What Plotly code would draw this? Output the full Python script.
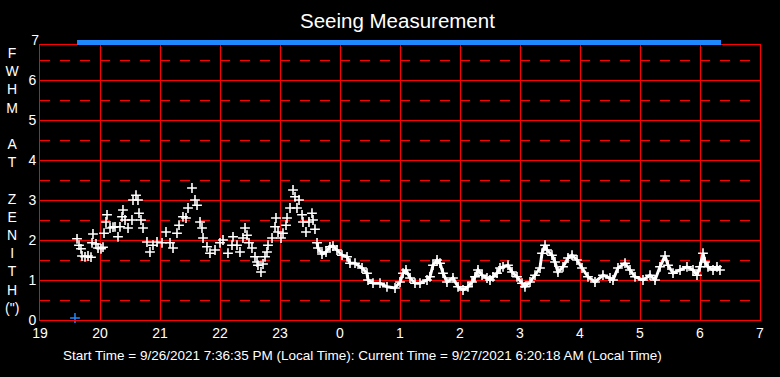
import plotly.graph_objects as go

# ---- data ----
hours = [19.617, 19.65, 19.683, 19.70, 19.75, 19.80, 19.85, 19.867, 19.883, 19.933, 19.967, 20.017, 20.05,
         20.067, 20.10, 20.117, 20.167, 20.217, 20.25, 20.30, 20.333, 20.367, 20.383, 20.417, 20.467, 20.533,
         20.55, 20.60, 20.633, 20.65, 20.683, 20.717, 20.783, 20.833, 20.883, 20.95, 21.033, 21.10, 21.167,
         21.217, 21.283, 21.317, 21.383, 21.433, 21.467, 21.533, 21.583, 21.617, 21.667, 21.70, 21.717, 21.783,
         21.833, 21.917, 22.0, 22.05, 22.133, 22.20, 22.217, 22.283, 22.333, 22.383, 22.417, 22.45, 22.483,
         22.533, 22.583, 22.617, 22.633, 22.683, 22.717, 22.75, 22.783, 22.80, 22.867, 22.917, 22.933, 22.967,
         23.017, 23.05, 23.10, 23.117, 23.167, 23.217, 23.25, 23.283, 23.317, 23.367, 23.383, 23.433, 23.483,
         23.533, 23.55, 23.583,
         23.617, 23.633, 23.70, 23.767, 23.833, 23.883, 23.95, 24.033, 24.117, 24.167, 24.25, 24.367, 24.45,
         24.467, 24.55, 24.667, 24.783, 24.917, 25.0, 25.05, 25.10, 25.167, 25.25, 25.333, 25.45, 25.50, 25.55,
         25.617, 25.667, 25.717, 25.783, 25.883, 25.967, 26.05, 26.133, 26.20, 26.25, 26.30, 26.367, 26.45,
         26.50, 26.55, 26.617, 26.667, 26.717, 26.80, 26.867, 26.95, 27.033, 27.083, 27.167, 27.25, 27.333,
         27.367, 27.417, 27.45, 27.533, 27.583, 27.633, 27.717, 27.80, 27.867, 27.95, 28.033, 28.133, 28.25,
         28.383, 28.50, 28.55, 28.633, 28.75, 28.833, 28.917, 29.05, 29.167, 29.25, 29.333, 29.417, 29.467,
         29.55, 29.667, 29.783, 29.883, 29.95, 30.0, 30.05, 30.083, 30.133, 30.217, 30.283, 30.333]
fwhm = [2.03, 1.87, 1.78, 1.6, 1.58, 1.6, 1.57, 1.93, 2.15, 1.9, 1.8, 1.78, 1.82,
        2.17, 2.45, 2.63, 2.3, 2.32, 2.33, 2.08, 2.33, 2.58, 2.75, 2.5, 2.3, 2.5,
        3.0, 3.12, 3.0, 2.67, 2.5, 2.3, 1.95, 1.7, 1.87, 1.95, 1.93, 2.2, 1.93,
        1.8, 2.17, 2.37, 2.58, 2.55, 2.8, 3.3, 3.0, 2.87, 2.45, 2.3, 2.05, 1.83,
        1.67, 1.75, 1.93, 2.0, 1.67, 1.87, 2.08, 1.87, 1.7, 2.05, 2.3, 2.12, 1.93,
        1.8, 1.58, 1.45, 1.37, 1.2, 1.4, 1.58, 1.7, 1.87, 2.05, 2.33, 2.55, 2.2,
        2.05, 2.17, 2.37, 2.55, 2.8, 3.25, 3.08, 2.8, 3.0, 2.63, 2.45, 2.2, 2.45,
        2.67, 2.5, 2.27,
        1.93, 1.8, 1.65, 1.7, 1.83, 1.85, 1.75, 1.62, 1.58, 1.42, 1.42, 1.3, 1.17,
        1.0, 0.92, 0.92, 0.83, 0.8, 0.95, 1.17, 1.25, 1.05, 0.92, 0.92, 1.0, 1.08, 1.37,
        1.5, 1.42, 1.17, 0.95, 1.05, 0.83, 0.75, 0.83, 0.95, 1.08, 1.25, 1.12, 1.05,
        1.0, 1.08, 1.17, 1.3, 1.33, 1.37, 1.2, 1.08, 0.92, 0.83, 0.95, 1.12, 1.3,
        1.67, 1.87, 1.75, 1.62, 1.45, 1.2, 1.33, 1.55, 1.62, 1.5, 1.3, 1.08, 0.95,
        1.12, 1.05, 1.0, 1.3, 1.42, 1.25, 1.08, 1.0, 1.12, 1.0, 1.33, 1.6, 1.37,
        1.17, 1.25, 1.33, 1.25, 1.12, 1.33, 1.67, 1.45, 1.33, 1.25, 1.33, 1.25]
split_hour = 23.6  # before: scattered measurements, after: dense smooth run

timeline_hours = [19.617, 30.35]   # start time .. current time
timeline_level = [6.94, 6.94]
start_marker_hour = [19.583]
start_marker_level = [0.05]

x_tick_vals = [19, 20, 21, 22, 23, 24, 25, 26, 27, 28, 29, 30, 31]
x_tick_text = ["19", "20", "21", "22", "23", "0", "1", "2", "3", "4", "5", "6", "7"]
y_tick_vals = [0, 1, 2, 3, 4, 5, 6]
y_half_vals = [0.5, 1.5, 2.5, 3.5, 4.5, 5.5, 6.5]
y_top_tick = [7]
y_main_range = [0, 6.875]
y_band_range = [6.875, 7]

title_text = "Seeing Measurement"
footer_text = ("Start Time = 9/26/2021 7:36:35 PM (Local Time): "
               "Current Time = 9/27/2021 6:20:18 AM (Local Time)")
ylabel_text = "F<br>W<br>H<br>M<br><br>A<br>T<br><br>Z<br>E<br>N<br>I<br>T<br>H<br>(\")"

FONT = "Liberation Sans, Arial, sans-serif"
RED = "#ff0000"
BLUE = "#1e88ff"

split = (y_main_range[1] - y_main_range[0]) / (y_band_range[1] - y_main_range[0])

fig = go.Figure()

hx_a = [h for h in hours if h < split_hour]
fy_a = [v for h, v in zip(hours, fwhm) if h < split_hour]
hx_b = [h for h in hours if h >= split_hour]
fy_b = [v for h, v in zip(hours, fwhm) if h >= split_hour]

marker = dict(symbol="cross-thin", size=7, color="white", line=dict(color="white", width=1.6))

fig.add_trace(go.Scatter(x=hx_a, y=fy_a, mode="markers", marker=marker, showlegend=False))
fig.add_trace(go.Scatter(x=hx_b, y=fy_b, mode="lines+markers", marker=marker,
                         line=dict(color="white", width=3), showlegend=False))
fig.add_trace(go.Scatter(x=start_marker_hour, y=start_marker_level, mode="markers",
                         marker=dict(symbol="cross-thin", size=7, color=BLUE, line=dict(color=BLUE, width=1.5)),
                         showlegend=False, cliponaxis=False))
fig.add_trace(go.Scatter(x=timeline_hours, y=timeline_level, mode="lines", xaxis="x2", yaxis="y2",
                         line=dict(color=BLUE, width=5), showlegend=False))

fig.update_layout(
    width=780, height=377,
    margin=dict(l=40, r=20, t=40, b=57),
    paper_bgcolor="black", plot_bgcolor="black",
    font=dict(family=FONT, color="white", size=14),
    xaxis=dict(range=[x_tick_vals[0], x_tick_vals[-1]], tickvals=x_tick_vals, ticktext=x_tick_text,
               showgrid=True, gridcolor=RED, gridwidth=1, zeroline=False,
               showline=True, mirror=True, linecolor=RED, linewidth=1,
               ticks="", automargin=False, tickfont=dict(size=14, color="white")),
    yaxis=dict(domain=[0, split], range=y_main_range, tickvals=y_tick_vals,
               showgrid=True, gridcolor=RED, gridwidth=1, zeroline=False,
               showline=True, mirror=True, linecolor=RED, linewidth=1,
               minor=dict(tickvals=y_half_vals, showgrid=True, gridcolor=RED, gridwidth=1,
                          griddash="10px,10px", ticks=""),
               ticks="", automargin=False, tickfont=dict(size=14, color="white")),
    xaxis2=dict(matches="x", anchor="y2", showgrid=False, showticklabels=False, zeroline=False,
                showline=False, ticks=""),
    yaxis2=dict(domain=[split, 1], range=y_band_range, tickvals=y_top_tick, showgrid=False,
                zeroline=False, showline=False, ticks="", anchor="x2", automargin=False,
                tickfont=dict(size=14, color="white")),
    annotations=[
        dict(text=title_text, xref="paper", yref="paper", x=(397 - 40) / 720, y=1 + 20 / 280,
             showarrow=False, xanchor="center", yanchor="middle", font=dict(size=20.5, color="white")),
        dict(text=footer_text, xref="paper", yref="paper", x=(362 - 40) / 720, y=-35 / 280,
             showarrow=False, xanchor="center", yanchor="middle", font=dict(size=13.5, color="white")),
        dict(text=ylabel_text, xref="paper", yref="paper", x=(12 - 40) / 720, y=(320 - 180) / 280,
             showarrow=False, xanchor="center", yanchor="middle", align="center",
             font=dict(size=14, color="white")),
    ],
)

fig.write_html("out.html", config={"displayModeBar": False},
               post_script="document.body.style.margin='0px';document.body.style.background='black';")
